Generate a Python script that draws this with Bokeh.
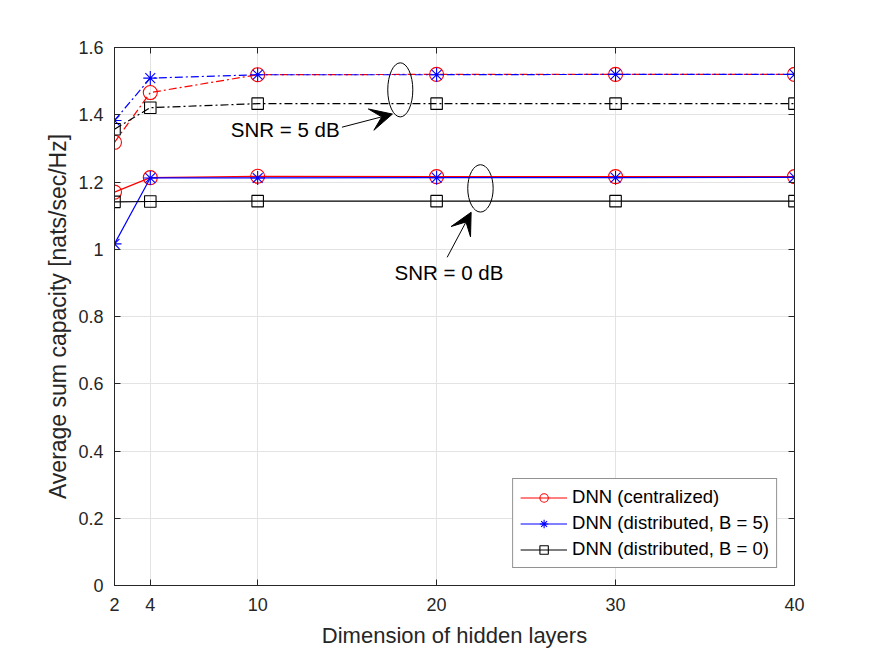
from bokeh.plotting import figure
from bokeh.models import (LinearAxis, FixedTicker, Legend, LegendItem, Label, Arrow,
                          VeeHead, CustomJSTickFormatter, Range1d)
from bokeh.embed import file_html
from bokeh.resources import INLINE

# ---- data ----
hidden_dims = [2, 4, 10, 20, 30, 40]
x_ticks = [2, 4, 10, 20, 30, 40]
y_ticks = [0, 0.2, 0.4, 0.6, 0.8, 1.0, 1.2, 1.4, 1.6]

# SNR = 5 dB
cent_snr5 = [1.318, 1.466, 1.519, 1.520, 1.520, 1.520]
distB5_snr5 = [1.383, 1.509, 1.519, 1.519, 1.520, 1.520]
distB0_snr5 = [1.357, 1.421, 1.433, 1.433, 1.433, 1.433]
# SNR = 0 dB
cent_snr0 = [1.170, 1.213, 1.217, 1.216, 1.216, 1.216]
distB5_snr0 = [1.016, 1.212, 1.212, 1.213, 1.213, 1.214]
distB0_snr0 = [1.141, 1.142, 1.143, 1.143, 1.143, 1.143]

labels = ["DNN (centralized)", "DNN (distributed, B = 5)", "DNN (distributed, B = 0)"]

FONT = "Liberation Sans"
AX = "#262626"

p = figure(width=875, height=657, output_backend="svg", toolbar_location=None,
           x_range=Range1d(2, 40), y_range=Range1d(0, 1.6),
           min_border_left=114, min_border_right=81, min_border_top=47, min_border_bottom=72)
p.background_fill_color = "white"
p.border_fill_color = "white"
p.outline_line_color = AX
p.outline_line_width = 1

for ax in (p.xaxis[0], p.yaxis[0]):
    ax.axis_line_color = AX
    ax.major_tick_line_color = AX
    ax.major_tick_in = 6
    ax.major_tick_out = 0
    ax.minor_tick_line_color = None
    ax.major_label_text_font = FONT
    ax.major_label_text_font_size = "18px"
    ax.major_label_text_color = AX
    ax.axis_label_text_font = FONT
    ax.axis_label_text_font_style = "normal"
    ax.axis_label_text_color = AX

p.xaxis[0].axis_label_text_font_size = "22px"
p.yaxis[0].axis_label_text_font_size = "23px"
p.xaxis[0].ticker = FixedTicker(ticks=x_ticks)
p.yaxis[0].ticker = FixedTicker(ticks=y_ticks)
p.xaxis[0].axis_label = "Dimension of hidden layers"
p.yaxis[0].axis_label = "Average sum capacity [nats/sec/Hz]"
p.xaxis[0].major_label_standoff = 12
p.xaxis[0].axis_label_standoff = 9
p.yaxis[0].major_label_standoff = 11
p.yaxis[0].axis_label_standoff = 4
p.yaxis[0].major_label_overrides = {0: "0", 1.0: "1"}

empty = CustomJSTickFormatter(code="return ''")
top_ax = LinearAxis(ticker=FixedTicker(ticks=x_ticks), formatter=empty,
                    major_tick_in=6, major_tick_out=0, minor_tick_line_color=None,
                    axis_line_color=AX, major_tick_line_color=AX, major_label_standoff=0,
                    major_label_text_font_size="1px")
right_ax = LinearAxis(ticker=FixedTicker(ticks=y_ticks), formatter=empty,
                      major_tick_in=6, major_tick_out=0, minor_tick_line_color=None,
                      axis_line_color=AX, major_tick_line_color=AX, major_label_standoff=0,
                      major_label_text_font_size="1px")
p.add_layout(top_ax, "above")
p.add_layout(right_ax, "right")

p.xgrid.ticker = FixedTicker(ticks=x_ticks)
p.ygrid.ticker = FixedTicker(ticks=y_ticks)
p.grid.grid_line_color = "#e3e3e3"
p.grid.grid_line_width = 1

DASH = "8 3 2 3"
LW = 1.2

series = [
    (cent_snr5, cent_snr0, "red", "circle", 14),
    (distB5_snr5, distB5_snr0, "blue", "asterisk", 14),
    (distB0_snr5, distB0_snr0, "black", "square", 11.5),
]

legend_items = []
for (y5, y0, col, mk, sz), lab in zip(series, labels):
    p.line(hidden_dims, y5, line_color=col, line_width=LW, line_dash=DASH)
    p.scatter(hidden_dims, y5, marker=mk, size=sz, line_color=col, fill_color=None, line_width=1.1)
    l0 = p.line(hidden_dims, y0, line_color=col, line_width=LW)
    s0 = p.scatter(hidden_dims, y0, marker=mk, size=sz, line_color=col, fill_color=None, line_width=1.1)
    legend_items.append(LegendItem(label=lab, renderers=[l0, s0]))

# ellipses marking the SNR groups
p.ellipse(x=[17.97, 22.45], y=[1.474, 1.181], width=[1.40, 1.42], height=[0.161, 0.141],
          fill_color=None, line_color="black", line_width=1)

# annotation arrows
p.add_layout(Arrow(x_start=14.71, y_start=1.363, x_end=17.53, y_end=1.402,
                   line_color="black", line_width=1,
                   end=VeeHead(size=22, fill_color="black", line_color="black")))
p.add_layout(Arrow(x_start=20.59, y_start=0.976, x_end=21.93, y_end=1.110,
                   line_color="black", line_width=1,
                   end=VeeHead(size=22, fill_color="black", line_color="black")))

p.add_layout(Label(x=11.54, y=1.356, text="SNR = 5 dB", text_align="center",
                   text_baseline="middle", text_font=FONT, text_font_size="20.5px",
                   text_color="black"))
p.add_layout(Label(x=20.69, y=0.931, text="SNR = 0 dB", text_align="center",
                   text_baseline="middle", text_font=FONT, text_font_size="20.5px",
                   text_color="black"))

legend = Legend(items=legend_items, location="bottom_right",
                label_text_font=FONT, label_text_font_size="18.5px", label_text_color="black",
                glyph_width=47, glyph_height=21, label_height=21, label_standoff=5,
                spacing=4, padding=7, margin=17,
                border_line_color=AX, border_line_width=1,
                background_fill_color="white", background_fill_alpha=1)
p.add_layout(legend)

open("out.html", "w").write(file_html(p, INLINE))
